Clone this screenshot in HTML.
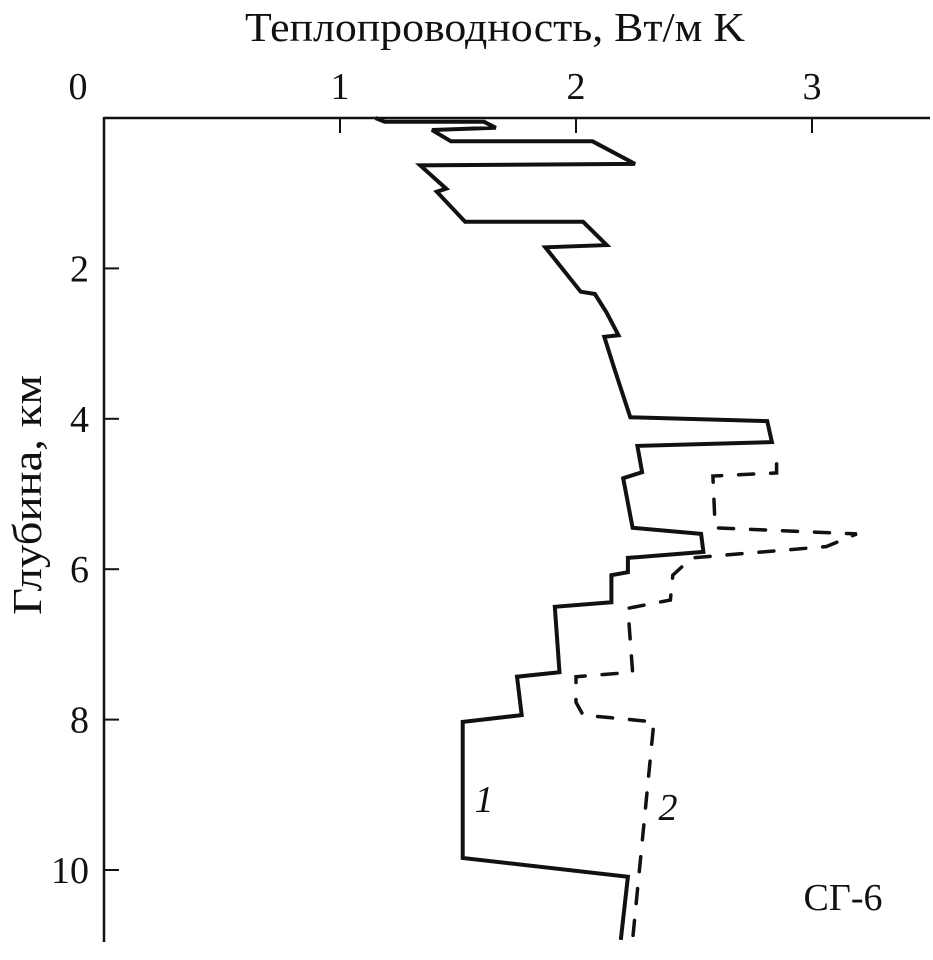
<!DOCTYPE html>
<html><head><meta charset="utf-8"><style>
html,body{margin:0;padding:0;background:#fff;}
svg{display:block;font-family:"Liberation Serif",serif;}
</style></head><body>
<svg id="chart" width="933" height="960" viewBox="0 0 933 960" xmlns="http://www.w3.org/2000/svg">
<text x="495" y="41" font-size="41" text-anchor="middle" textLength="500" lengthAdjust="spacingAndGlyphs" fill="#111">Теплопроводность, Вт/м K</text>
<text transform="translate(41,495) rotate(-90)" font-size="41" text-anchor="middle" textLength="240" lengthAdjust="spacingAndGlyphs" fill="#111">Глубина, км</text>
<text x="843" y="910" font-size="38" text-anchor="middle" fill="#111">СГ-6</text>
<text x="484" y="812" font-size="38" font-style="italic" text-anchor="middle" fill="#111">1</text>
<text x="668" y="820" font-size="38" font-style="italic" text-anchor="middle" fill="#111">2</text>
</svg>
<script>
const xTicks=[1,2,3];
const xTickLabels=["0","1","2","3"];
const yTicks=[2,4,6,8,10];
const yTickLabels=["2","4","6","8","10"];
const series1K=[1.15,1.19,1.61,1.66,1.39,1.47,2.07,2.25,1.34,1.45,1.41,1.53,2.03,2.13,1.87,2.02,2.08,2.13,2.18,2.12,2.16,2.21,2.23,2.81,2.83,2.26,2.28,2.20,2.24,2.53,2.54,2.22,2.22,2.15,2.15,1.91,1.93,1.75,1.77,1.52,1.52,2.22,2.19];
const series1Depth=[0.0,0.05,0.05,0.13,0.16,0.31,0.31,0.61,0.63,0.94,0.98,1.38,1.38,1.69,1.72,2.31,2.34,2.59,2.89,2.91,3.31,3.79,3.98,4.03,4.31,4.36,4.71,4.79,5.45,5.53,5.77,5.85,6.04,6.08,6.44,6.50,7.37,7.43,7.94,8.03,9.84,10.09,10.93];
const series2K=[2.85,2.85,2.58,2.59,3.19,3.06,2.49,2.41,2.40,2.22,2.24,2.00,2.00,2.03,2.33,2.24];
const series2Depth=[4.60,4.72,4.76,5.45,5.53,5.70,5.85,6.08,6.41,6.52,7.37,7.43,7.77,7.94,8.03,10.93];

const X0=104,XS=236,Y0=118,YS=75.2;
const sx=v=>X0+v*XS, sy=d=>Y0+d*YS;
const svg=document.getElementById('chart');
const NS='http://www.w3.org/2000/svg';
function mk(tag,attrs){const e=document.createElementNS(NS,tag);for(const k in attrs)e.setAttribute(k,attrs[k]);svg.appendChild(e);return e;}

const xa=mk('line',{x1:X0,y1:Y0,x2:930,y2:Y0,stroke:'#111','stroke-width':2.5});


const ya=mk('line',{x1:X0,y1:Y0-1,x2:X0,y2:942,stroke:'#111','stroke-width':2.5});



xTicks.forEach(v=>{
  const t=mk('line',{x1:sx(v),y1:Y0,x2:sx(v),y2:Y0+15,stroke:'#111','stroke-width':2});
  
  
});
xTickLabels.forEach((s,i)=>{
  const x=i===0?78:sx(i);
  const t=mk('text',{x:x,y:99,'font-size':38,'text-anchor':'middle',fill:'#111'});
  t.textContent=s;
  
  
});
yTicks.forEach((d,i)=>{
  const t=mk('line',{x1:X0,y1:sy(d),x2:X0+15,y2:sy(d),stroke:'#111','stroke-width':2});
  
  
  const l=mk('text',{x:89,y:sy(d)+13,'font-size':38,'text-anchor':'end',fill:'#111'});
  l.textContent=yTickLabels[i];
  
  
});

function pts(ks,ds){return ks.map((k,i)=>sx(k).toFixed(1)+','+sy(ds[i]).toFixed(1)).join(' ');}
const p1=mk('polyline',{points:pts(series1K,series1Depth),fill:'none',stroke:'#111','stroke-width':4,'stroke-linejoin':'miter','stroke-miterlimit':3});


const p2=mk('polyline',{points:pts(series2K,series2Depth),fill:'none',stroke:'#111','stroke-width':3.5,'stroke-dasharray':'15,17','stroke-linecap':'round'});


</script>
</body></html>
